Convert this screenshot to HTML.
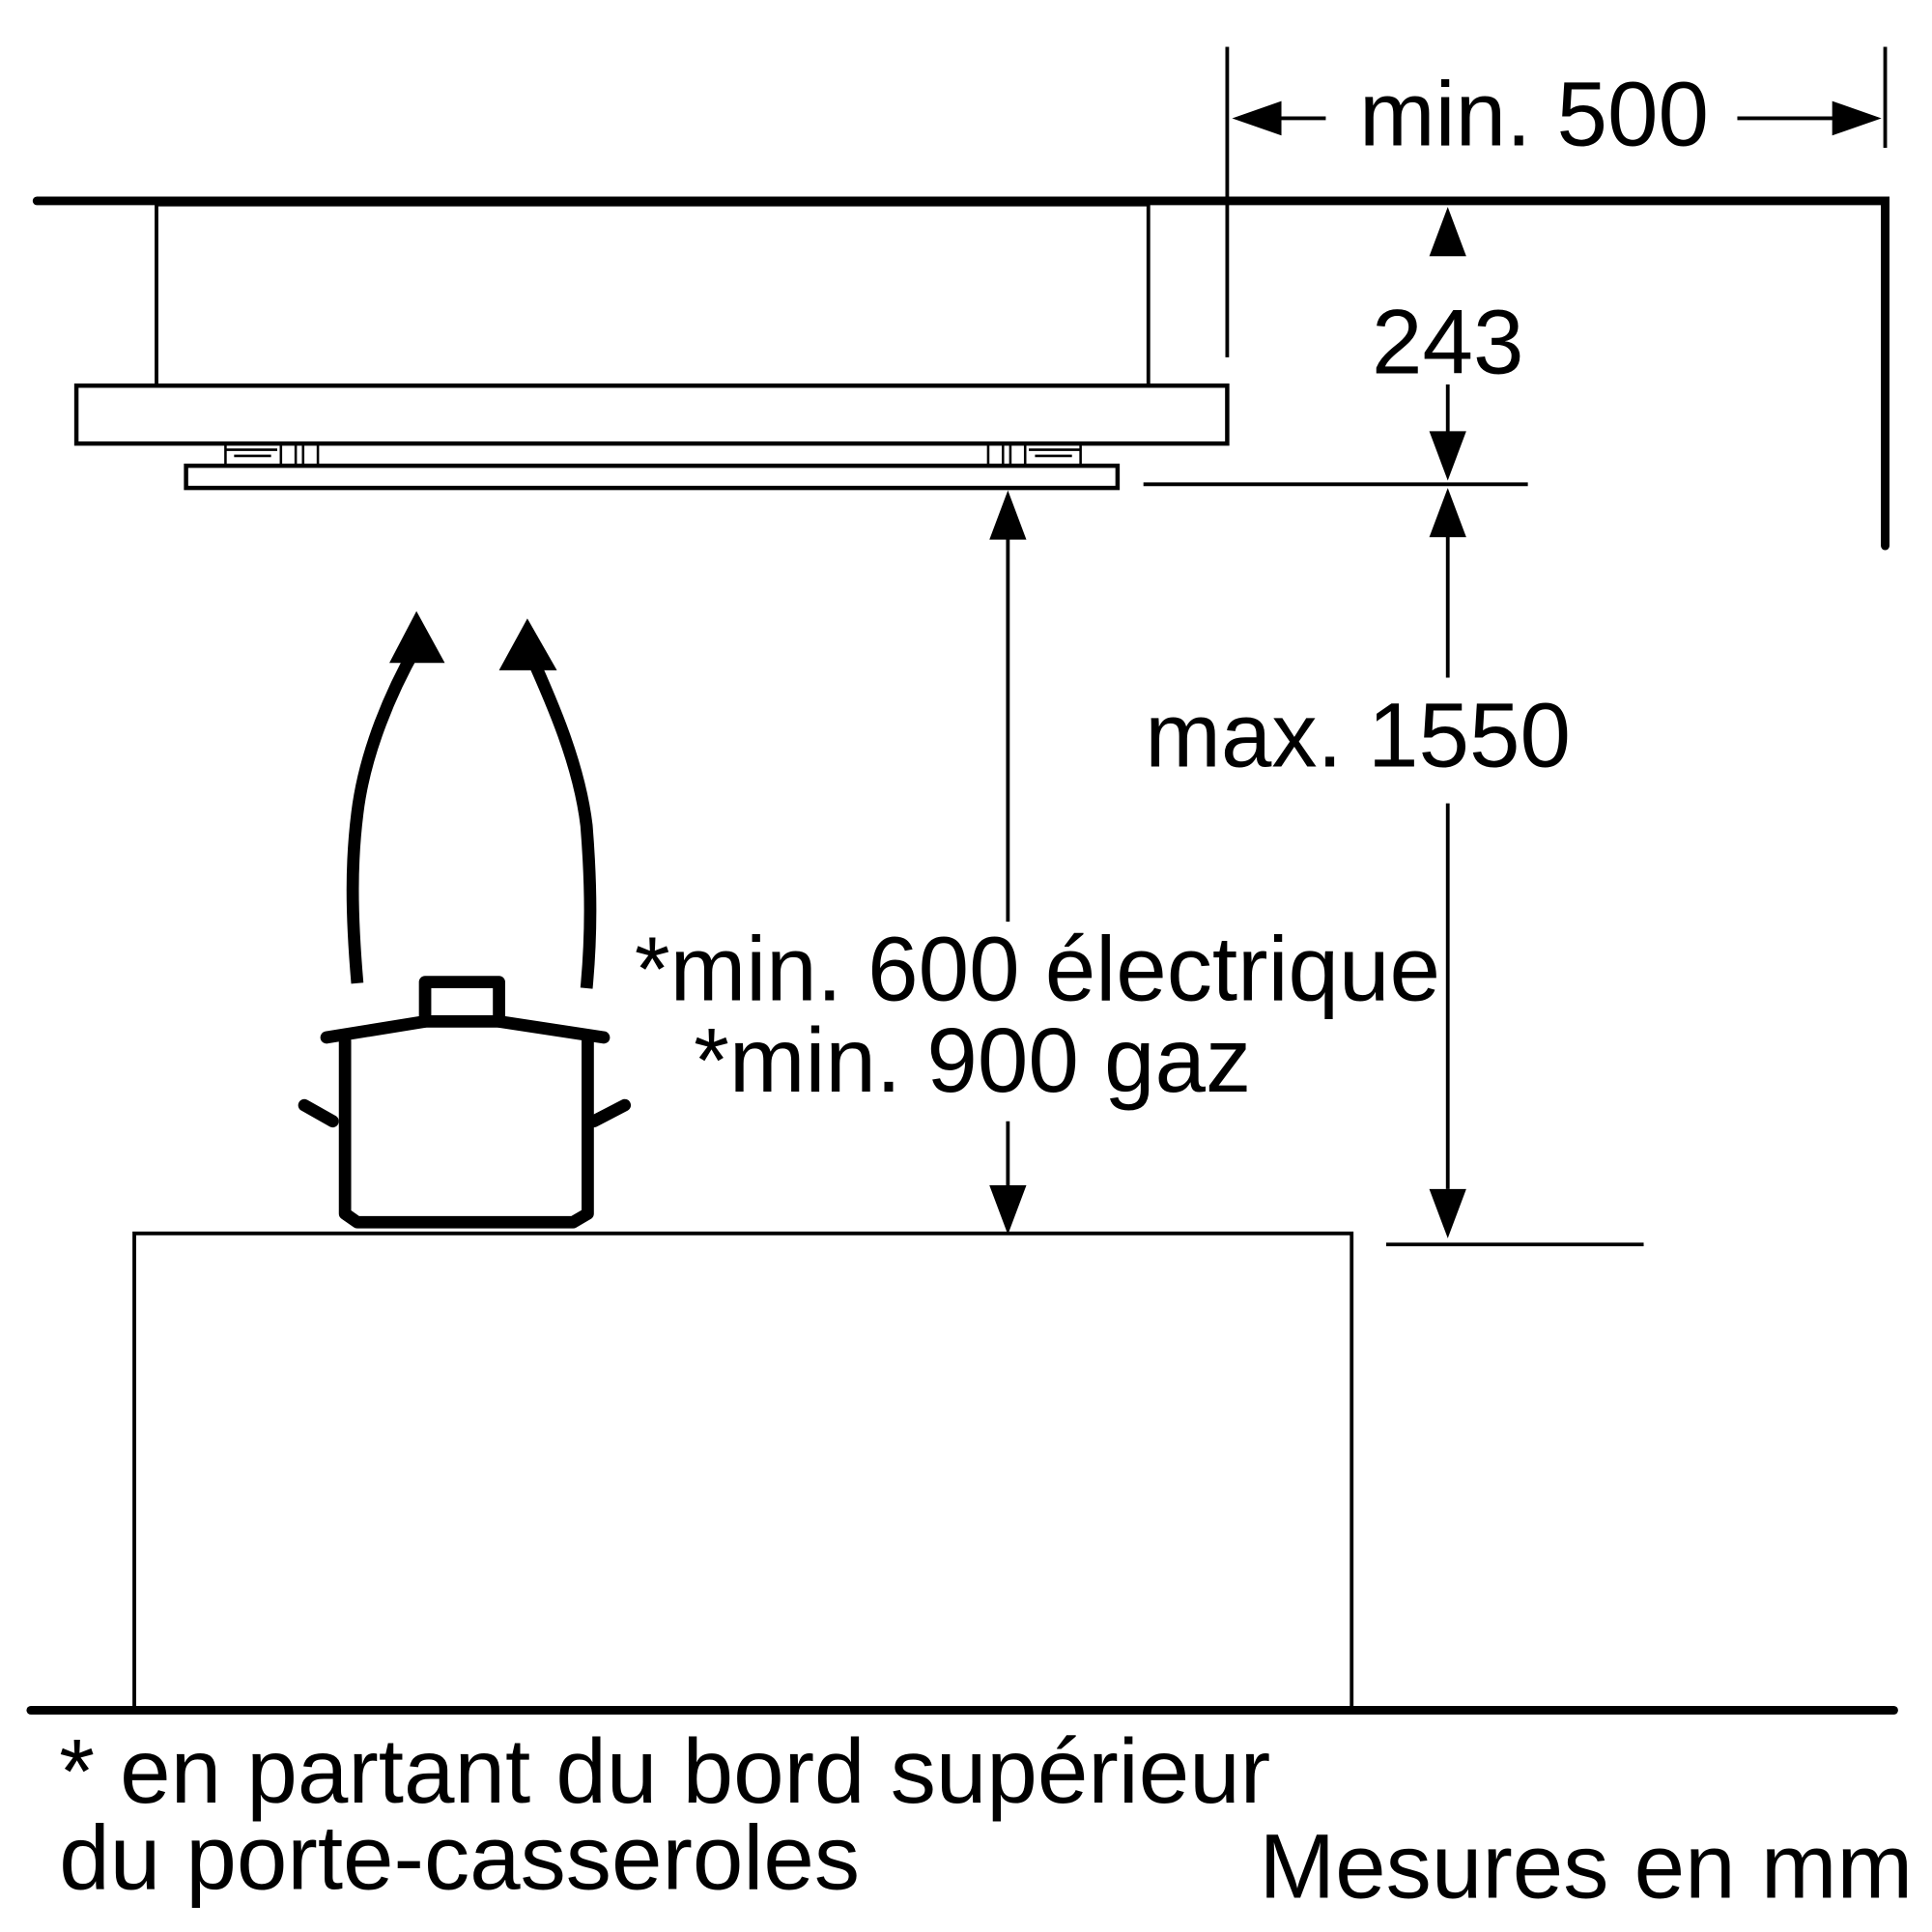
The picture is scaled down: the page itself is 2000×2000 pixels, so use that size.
<!DOCTYPE html>
<html><head><style>html,body{margin:0;padding:0;background:#fff}svg{display:block}</style></head><body>
<svg width="2000" height="2000" viewBox="0 0 1568 1568" xmlns="http://www.w3.org/2000/svg" font-family="Liberation Sans, sans-serif" font-size="70" fill="none" stroke="#000">
<path d="M30 163 H1530 V443" stroke-width="7" stroke-linecap="round"/>
<rect x="127" y="166" width="805" height="147" stroke-width="3"/>
<line x1="996" y1="38" x2="996" y2="290" stroke-width="3"/>
<line x1="1530" y1="38" x2="1530" y2="120" stroke-width="3"/>
<rect x="62" y="313" width="934" height="47" stroke-width="3.5"/>
<rect x="151" y="378" width="756" height="18" stroke-width="3.5"/>
<g stroke-width="2">
<path d="M183 360 V378 M183 365 H225 M190 370 H220 M228 360 V378 M240 360 V378 M246 360 V378 M258 360 V378"/>
<path d="M877 360 V378 M877 365 H835 M870 370 H840 M832 360 V378 M820 360 V378 M814 360 V378 M802 360 V378"/>
</g>
<g stroke-width="3">
<line x1="1030" y1="96" x2="1076" y2="96"/><line x1="1410" y1="96" x2="1495" y2="96"/>
</g>
<g fill="#000" stroke="none">
<polygon points="1000,96 1040,82 1040,110"/>
<polygon points="1527,96 1487,82 1487,110"/>
</g>
<text x="1245" y="118" text-anchor="middle" fill="#000" stroke="none" font-size="74">min. 500</text>
<g stroke-width="3">
<line x1="1175" y1="200" x2="1175" y2="207"/><line x1="1175" y1="312" x2="1175" y2="355"/>
<line x1="928" y1="393" x2="1240" y2="393"/>
<line x1="1175" y1="430" x2="1175" y2="550"/><line x1="1175" y1="652" x2="1175" y2="965"/>
<line x1="1125" y1="1010" x2="1334" y2="1010"/>
<line x1="818" y1="435" x2="818" y2="748"/><line x1="818" y1="910" x2="818" y2="965"/>
</g>
<g fill="#000" stroke="none">
<polygon points="1175,168 1160,208 1190,208"/>
<polygon points="1175,390 1160,350 1190,350"/>
<polygon points="1175,396 1160,436 1190,436"/>
<polygon points="1175,1005 1160,965 1190,965"/>
<polygon points="818,398 803,438 833,438"/>
<polygon points="818,1002 803,962 833,962"/>
</g>
<g fill="#000" stroke="none">
<text x="1175" y="303" text-anchor="middle" font-size="74">243</text>
<text x="1102" y="622" text-anchor="middle" font-size="74">max. 1550</text>
<text x="515" y="812" font-size="74">*min. 600 électrique</text>
<text x="563" y="886" font-size="74">*min. 900 gaz</text>
<text x="48" y="1463" font-size="74">* en partant du bord supérieur</text>
<text x="48" y="1533" font-size="74">du porte-casseroles</text>
<text x="1022" y="1540" font-size="74">Mesures en mm</text>
</g>
<path d="M109 1387 V1001 H1097 V1387" stroke-width="3"/>
<line x1="25" y1="1388" x2="1537" y2="1388" stroke-width="7" stroke-linecap="round"/>
<g stroke-width="10" stroke-linejoin="round" stroke-linecap="round">
<path d="M280 845 V985 L290 992 H465 L477 985 V845"/>
<path d="M265 842 L345 829 H405 L490 842"/>
<path d="M345 829 V797 H405 V829"/>
<path d="M270 910 L247 897 M482 910 L507 897"/>
</g>
<g stroke-width="10">
<path d="M290 798 C285 740 285 700 290 660 C296 610 318 560 338 525"/>
<path d="M476 802 C480 760 480 720 476 670 C470 620 448 570 430 530"/>
</g>
<g fill="#000" stroke="none">
<polygon points="338,496 316,538 361,538"/>
<polygon points="428,502 405,544 452,544"/>
</g>
</svg>
</body></html>
